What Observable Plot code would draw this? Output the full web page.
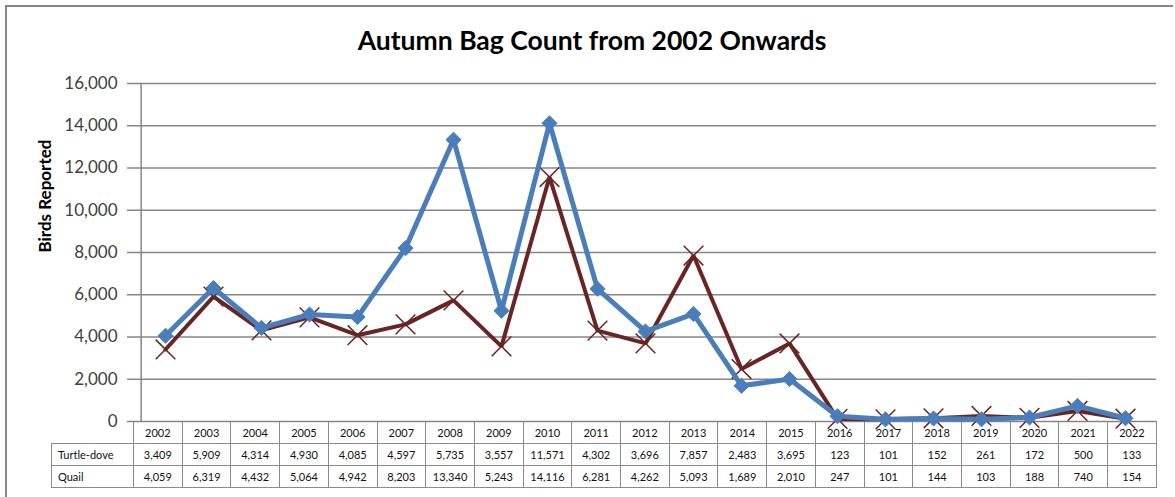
<!DOCTYPE html>
<html><head><meta charset="utf-8">
<script src="https://cdn.jsdelivr.net/npm/d3@7"></script>
<script src="https://cdn.jsdelivr.net/npm/@observablehq/plot@0.6"></script>
<style>
body{margin:0;background:#fff;font-family:Lato,sans-serif;}
#wrap{position:relative;width:1175px;height:497px;overflow:hidden;background:#fff;}
#frame{position:absolute;left:5px;top:5px;width:1166px;height:600px;border-left:2px solid #868686;border-top:2px solid #868686;}
#title{position:absolute;left:0;width:1184px;top:24px;text-align:center;font-weight:bold;font-size:26.5px;color:#000;}
#tbl{position:absolute;top:421px;border-collapse:collapse;table-layout:fixed;font-size:11px;color:#111;}
#tbl td{border:1px solid #8a8a8a;height:21px;padding:0;text-align:center;white-space:nowrap;}
#tbl td.lab{text-align:left;padding-left:6px;}
#tbl td.blank{border:none;}
#chart svg{position:absolute;left:0;top:0;overflow:visible;}
</style>
</head><body>
<div id="wrap">
  <div id="frame"></div>
  <div id="title">Autumn Bag Count from 2002 Onwards</div>
  <table id="tbl"></table>
  <div id="chart"></div>
</div>
<script>
const years = [2002,2003,2004,2005,2006,2007,2008,2009,2010,2011,2012,2013,2014,2015,2016,2017,2018,2019,2020,2021,2022];
const turtleDove = [3409,5909,4314,4930,4085,4597,5735,3557,11571,4302,3696,7857,2483,3695,123,101,152,261,172,500,133];
const quail = [4059,6319,4432,5064,4942,8203,13340,5243,14116,6281,4262,5093,1689,2010,247,101,144,103,188,740,154];
const seriesNames = ["Turtle-dove","Quail"];
const yTicks = [0,2000,4000,6000,8000,10000,12000,14000,16000];
const yLabel = "Birds Reported";

const W = 1175, H = 497, mL = 133, mR = 19, mT = 83, mB = 76;
const bw = (W - mL - mR) / years.length;
const fmt = d3.format(",");

const td = years.map((yr,i)=>({year:yr, value:turtleDove[i]}));
const qu = years.map((yr,i)=>({year:yr, value:quail[i]}));

const maroon = "#6a2424", blue = "#4a7ebb", grid = "#868686";

const plot = Plot.plot({
  width: W, height: H,
  marginLeft: mL, marginRight: mR, marginTop: mT, marginBottom: mB,
  style: {background: "transparent", fontFamily: "Lato, sans-serif", fontSize: "17px", overflow: "visible"},
  x: {type: "band", domain: years, padding: 0, axis: null},
  y: {domain: [0, 16000], axis: null},
  marks: [
    Plot.gridY(yTicks, {stroke: grid, strokeOpacity: 1, strokeWidth: 1.5}),
    Plot.axisY({ticks: yTicks, tickFormat: fmt, tickSize: 6, tickPadding: 10, fontSize: 17, color: "#404040", stroke: grid, strokeWidth: 1.5, label: null}),
    Plot.ruleX([years[0]], {y1: 0, y2: 16000, dx: -bw/2, stroke: grid, strokeWidth: 1.5}),
    Plot.text([yLabel], {frameAnchor: "left", rotate: -90, dx: -88, fontWeight: "bold", fontSize: 17, fill: "#000"}),
    Plot.line(td, {x: "year", y: "value", stroke: maroon, strokeWidth: 4, strokeLinejoin: "miter"}),
    Plot.dot(td, {x: "year", y: "value", symbol: "times", r: 9, stroke: maroon, strokeWidth: 1.5}),
    Plot.line(qu, {x: "year", y: "value", stroke: blue, strokeWidth: 5, strokeLinejoin: "miter"}),
    Plot.dot(qu, {x: "year", y: "value", symbol: "diamond2", r: 6.8, fill: blue, stroke: blue, strokeWidth: 1})
  ]
});
document.getElementById("chart").appendChild(plot);

// data table below the axis, aligned with the x band scale
const xs = plot.scale("x");
const tableLeft = 51;
const labW = xs.range[0] - tableLeft;
const tbl = document.getElementById("tbl");
tbl.style.left = tableLeft + "px";
tbl.style.width = (labW + bw * years.length) + "px";
const cg = document.createElement("colgroup");
const c0 = document.createElement("col"); c0.style.width = labW + "px"; cg.appendChild(c0);
years.forEach(()=>{const c=document.createElement("col"); c.style.width = bw + "px"; cg.appendChild(c);});
tbl.appendChild(cg);
function addRow(label, vals, isHead){
  const tr = document.createElement("tr");
  const l = document.createElement("td");
  if (isHead) l.className = "blank"; else { l.className = "lab"; l.textContent = label; }
  tr.appendChild(l);
  vals.forEach(v=>{const c=document.createElement("td"); c.textContent = isHead ? String(v) : fmt(v); tr.appendChild(c);});
  tbl.appendChild(tr);
}
addRow("", years, true);
addRow(seriesNames[0], turtleDove, false);
addRow(seriesNames[1], quail, false);
</script>
</body></html>
